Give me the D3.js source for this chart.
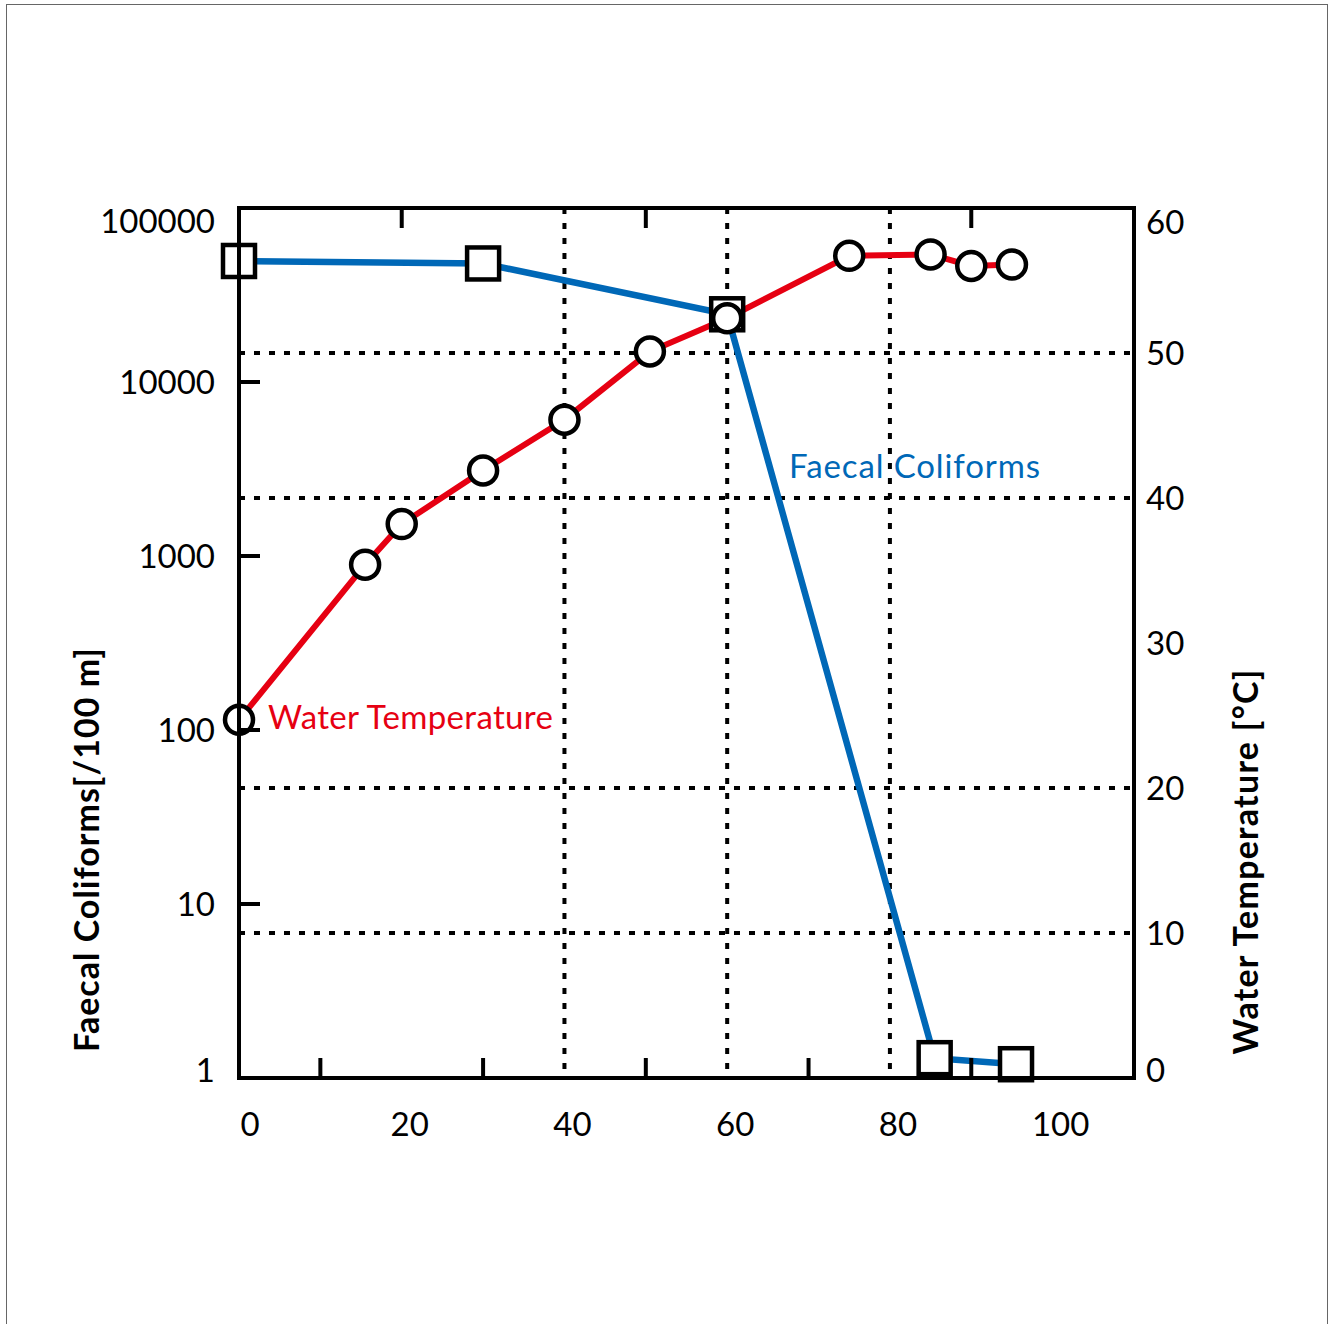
<!DOCTYPE html>
<html>
<head>
<meta charset="utf-8">
<script src="https://cdn.jsdelivr.net/npm/d3@7"></script>
<style>
  body { margin: 0; background: #fff; }
  text { font-family: Lato, "Noto Sans", sans-serif; }
</style>
</head>
<body>
<div id="chart"></div>
<script>
// distance along the flow (x) and the two measured series
const tempDistance = [0, 15.5, 20, 30, 40, 50.5, 60, 75, 85, 90, 95];
const waterTemp = [24.7, 35.4, 38.2, 41.9, 45.4, 50.1, 52.4, 56.7, 56.8, 56.0, 56.1];

const coliDistance = [0, 30, 60, 85.5, 95.5];
const coliforms = [49600, 48000, 24500, 1.3, 1.2];

const xTicks = [0, 20, 40, 60, 80, 100];
const xMinorTicks = [10, 30, 50, 70, 90];
const xTopTicks = [20, 50, 90];
const xGrid = [40, 60, 80];
const logTicks = [1, 10, 100, 1000, 10000, 100000];
const tempTicks = [0, 10, 20, 30, 40, 50, 60];
const tempGrid = [10, 20, 40, 50];

const W = 1330, H = 1324;
const pLeft = 239, pRight = 1134, pTop = 208, pBottom = 1078;
const red = '#e60012', blue = '#0068b7';

const svg = d3.select('#chart').append('svg')
  .attr('width', W).attr('height', H);

// page frame
svg.append('rect')
  .attr('x', 6.5).attr('y', 4.5)
  .attr('width', 1321).attr('height', 1340)
  .attr('fill', 'none').attr('stroke', '#666').attr('stroke-width', 1);

const x = d3.scaleLinear().domain([0, 110]).range([pLeft, pRight]);
const yLog = d3.scaleLog().domain([1, 100000]).range([pBottom, pTop]);
const yTemp = d3.scaleLinear().domain([0, 60]).range([pBottom, pTop]);

// dotted grid
const grid = svg.append('g')
  .attr('stroke', '#000').attr('stroke-width', 4).attr('stroke-dasharray', '6,9');
grid.selectAll('.gx').data(xGrid).join('line')
  .attr('x1', d => x(d)).attr('x2', d => x(d))
  .attr('y1', pTop).attr('y2', pBottom);
grid.selectAll('.gy').data(tempGrid).join('line')
  .attr('x1', pLeft).attr('x2', pRight)
  .attr('y1', d => yTemp(d)).attr('y2', d => yTemp(d));

// series lines
const coliLine = d3.line()
  .x((d, i) => x(coliDistance[i]))
  .y(d => yLog(d));
svg.append('path')
  .datum(coliforms)
  .attr('fill', 'none').attr('stroke', blue).attr('stroke-width', 6.5)
  .attr('d', coliLine);

const tempLine = d3.line()
  .x((d, i) => x(tempDistance[i]))
  .y(d => yTemp(d));
svg.append('path')
  .datum(waterTemp)
  .attr('fill', 'none').attr('stroke', red).attr('stroke-width', 6)
  .attr('d', tempLine);

// markers
svg.append('g').selectAll('rect').data(coliforms).join('rect')
  .attr('x', (d, i) => x(coliDistance[i]) - 16)
  .attr('y', d => yLog(d) - 16)
  .attr('width', 32).attr('height', 32)
  .attr('fill', '#fff').attr('stroke', '#000').attr('stroke-width', 4.5);

svg.append('g').selectAll('circle').data(waterTemp).join('circle')
  .attr('cx', (d, i) => x(tempDistance[i]))
  .attr('cy', d => yTemp(d))
  .attr('r', 14)
  .attr('fill', '#fff').attr('stroke', '#000').attr('stroke-width', 4.5);

// frame and ticks
svg.append('rect')
  .attr('x', pLeft).attr('y', pTop)
  .attr('width', pRight - pLeft).attr('height', pBottom - pTop)
  .attr('fill', 'none').attr('stroke', '#000').attr('stroke-width', 4);

const ticks = svg.append('g').attr('stroke', '#000').attr('stroke-width', 4);
ticks.selectAll('.tb').data(xMinorTicks).join('line')
  .attr('x1', d => x(d)).attr('x2', d => x(d))
  .attr('y1', pBottom).attr('y2', pBottom - 20);
ticks.selectAll('.tt').data(xTopTicks).join('line')
  .attr('x1', d => x(d)).attr('x2', d => x(d))
  .attr('y1', pTop).attr('y2', pTop + 20);
ticks.selectAll('.tl').data(logTicks.slice(1, -1)).join('line')
  .attr('x1', pLeft).attr('x2', pLeft + 21)
  .attr('y1', d => yLog(d)).attr('y2', d => yLog(d));

// tick labels
const fs = 33;
svg.append('g').selectAll('text').data(xTicks).join('text')
  .attr('x', d => Math.max(x(d) + 8, 250))
  .attr('y', 1124)
  .attr('dy', '0.36em')
  .attr('text-anchor', 'middle')
  .attr('font-size', fs)
  .text(d => d);

svg.append('g').selectAll('text').data(logTicks).join('text')
  .attr('x', 215)
  .attr('y', d => Math.min(Math.max(yLog(d), 221), 1070))
  .attr('dy', '0.36em')
  .attr('text-anchor', 'end')
  .attr('font-size', fs)
  .text(d => d);

svg.append('g').selectAll('text').data(tempTicks).join('text')
  .attr('x', 1146)
  .attr('y', d => Math.min(Math.max(yTemp(d), 222), 1070))
  .attr('dy', '0.36em')
  .attr('text-anchor', 'start')
  .attr('font-size', fs)
  .text(d => d);

// axis titles
svg.append('text')
  .attr('transform', 'translate(99,850) rotate(-90)')
  .attr('text-anchor', 'middle')
  .attr('font-size', 34).attr('font-weight', 'bold')
  .attr('textLength', 404).attr('lengthAdjust', 'spacing')
  .text('Faecal Coliforms[/100 m]');

svg.append('text')
  .attr('transform', 'translate(1258,862) rotate(-90)')
  .attr('text-anchor', 'middle')
  .attr('font-size', 34).attr('font-weight', 'bold')
  .attr('textLength', 385).attr('lengthAdjust', 'spacing')
  .text('Water Temperature [°C]');

// series labels
svg.append('text')
  .attr('x', 268).attr('y', 729)
  .attr('font-size', 33).attr('fill', red)
  .attr('textLength', 285).attr('lengthAdjust', 'spacing')
  .text('Water Temperature');

svg.append('text')
  .attr('x', 789).attr('y', 478)
  .attr('font-size', 33).attr('fill', blue)
  .attr('textLength', 251).attr('lengthAdjust', 'spacing')
  .text('Faecal Coliforms');
</script>
</body>
</html>
